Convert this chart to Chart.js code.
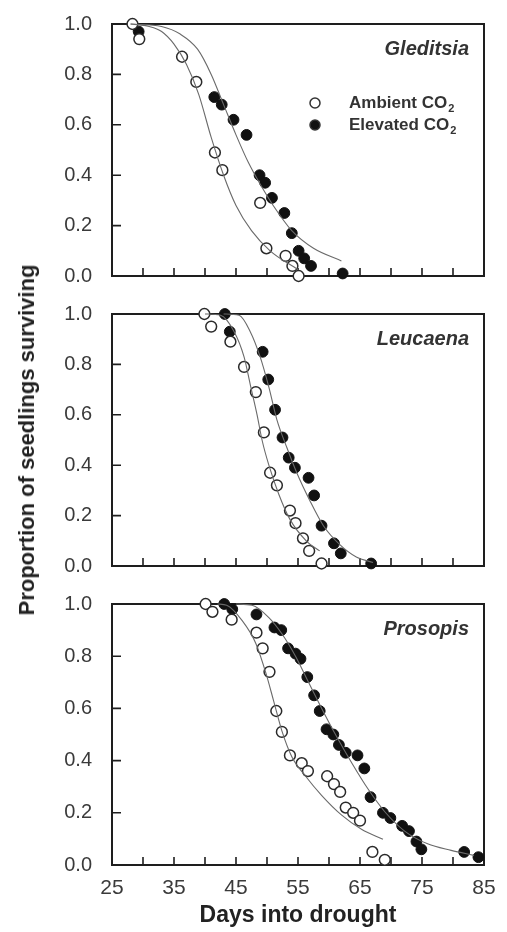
<!DOCTYPE html>
<html>
<head>
<meta charset="utf-8">
<script src="https://cdn.jsdelivr.net/npm/chart.js@4.4.0/dist/chart.umd.min.js"></script>
<style>
  body { margin: 0; background: #fff; width: 507px; height: 932px; position: relative; overflow: hidden; font-family: "Liberation Sans", Arial, sans-serif; }
  .panel { position: absolute; left: 0; width: 507px; }
  #ylab { position: absolute; left: 27px; top: 440px; transform: translate(-50%, -50%) rotate(-90deg);
          font-weight: bold; font-size: 22px; white-space: nowrap; color: #222; }
</style>
</head>
<body>
<div class="panel" style="top:0;height:300px"><canvas id="c1"></canvas></div>
<div class="panel" style="top:290px;height:300px"><canvas id="c2"></canvas></div>
<div class="panel" style="top:580px;height:352px"><canvas id="c3"></canvas></div>
<div id="ylab">Proportion of seedlings surviving</div>
<script>
// ---- data ----
// Gleditsia
const gledDaysAmb  = [28.3, 29.4, 36.3, 38.6, 41.6, 42.8, 48.9, 49.9, 53.0, 54.1, 55.1];
const gledSurvAmb  = [1.0, 0.94, 0.87, 0.77, 0.49, 0.42, 0.29, 0.11, 0.08, 0.04, 0.0];
const gledDaysElev = [29.3, 41.5, 42.7, 44.6, 46.7, 48.8, 49.7, 50.8, 52.8, 54.0, 55.1, 56.0, 57.1, 62.2];
const gledSurvElev = [0.97, 0.71, 0.68, 0.62, 0.56, 0.40, 0.37, 0.31, 0.25, 0.17, 0.10, 0.07, 0.04, 0.01];
const gledFitDaysAmb  = [28, 31, 33, 35, 37, 39, 41, 43, 45, 47.5, 50.5, 55];
const gledFitSurvAmb  = [1.0, 0.99, 0.97, 0.92, 0.84, 0.72, 0.55, 0.40, 0.28, 0.18, 0.10, 0.025];
const gledFitDaysElev = [28, 33, 36, 38.8, 41, 43, 45, 47, 49, 51, 54, 57.5, 62];
const gledFitSurvElev = [1.0, 0.99, 0.96, 0.90, 0.80, 0.68, 0.56, 0.45, 0.36, 0.28, 0.18, 0.11, 0.06];

// Leucaena
const leucDaysAmb  = [39.9, 41.0, 44.1, 46.3, 48.2, 49.5, 50.5, 51.6, 53.7, 54.6, 55.8, 56.8, 58.8];
const leucSurvAmb  = [1.0, 0.95, 0.89, 0.79, 0.69, 0.53, 0.37, 0.32, 0.22, 0.17, 0.11, 0.06, 0.01];
const leucDaysElev = [43.2, 44.0, 49.3, 50.2, 51.3, 52.5, 53.5, 54.5, 56.7, 57.6, 58.8, 60.8, 61.9, 66.8];
const leucSurvElev = [1.0, 0.93, 0.85, 0.74, 0.62, 0.51, 0.43, 0.39, 0.35, 0.28, 0.16, 0.09, 0.05, 0.01];
const leucFitDaysAmb  = [40, 42.5, 44.7, 46.3, 47.3, 48.4, 49.2, 50.3, 51.9, 53.7, 56.4, 58.5];
const leucFitSurvAmb  = [1.0, 0.995, 0.93, 0.83, 0.72, 0.60, 0.50, 0.40, 0.285, 0.185, 0.098, 0.06];
const leucFitDaysElev = [43, 45.5, 47.3, 48.9, 50.3, 51.6, 53.2, 54.8, 56.9, 59.1, 61.7, 64.4, 67.1];
const leucFitSurvElev = [1.0, 0.995, 0.93, 0.83, 0.71, 0.58, 0.47, 0.37, 0.26, 0.16, 0.086, 0.036, 0.014];

// Prosopis
const prosDaysAmb  = [40.1, 41.2, 44.3, 48.3, 49.3, 50.4, 51.5, 52.4, 53.7, 55.6, 56.6, 59.7, 60.8, 61.8, 62.7, 63.9, 65.0, 67.0, 69.0];
const prosSurvAmb  = [1.0, 0.97, 0.94, 0.89, 0.83, 0.74, 0.59, 0.51, 0.42, 0.39, 0.36, 0.34, 0.31, 0.28, 0.22, 0.20, 0.17, 0.05, 0.02];
const prosDaysElev = [43.1, 44.4, 48.3, 51.2, 52.3, 53.4, 54.6, 55.4, 56.5, 57.6, 58.5, 59.6, 60.7, 61.6, 62.7, 64.6, 65.7, 66.7, 68.7, 69.9, 71.8, 72.9, 74.1, 74.9, 81.8, 84.1];
const prosSurvElev = [1.0, 0.98, 0.96, 0.91, 0.90, 0.83, 0.81, 0.79, 0.72, 0.65, 0.59, 0.52, 0.50, 0.46, 0.43, 0.42, 0.37, 0.26, 0.20, 0.18, 0.15, 0.13, 0.09, 0.06, 0.05, 0.03];
const prosFitDaysAmb  = [42, 43.5, 46, 48.2, 49.8, 51.1, 52.4, 54, 56.2, 58.8, 62, 65.3, 68.7];
const prosFitSurvAmb  = [1.0, 0.995, 0.936, 0.849, 0.737, 0.626, 0.514, 0.415, 0.341, 0.267, 0.192, 0.136, 0.099];
const prosFitDaysElev = [45, 47.6, 50.3, 52.4, 54.6, 56.7, 58.8, 61, 63.7, 66.3, 69, 72.2, 75.9, 79.7, 83.4];
const prosFitSurvElev = [1.0, 0.995, 0.948, 0.886, 0.8, 0.7, 0.601, 0.502, 0.39, 0.291, 0.204, 0.13, 0.081, 0.056, 0.037];

// axis ticks
const xTicks = [25, 30, 35, 40, 45, 50, 55, 60, 65, 70, 75, 80, 85];
const xLabels = [25, 35, 45, 55, 65, 75, 85];
const yTicks = [0, 0.2, 0.4, 0.6, 0.8, 1.0];

const FONT = '"Liberation Sans", Arial, sans-serif';

function pts(xs, ys) {
  return xs.map((x, i) => ({ x: x, y: ys[i] }));
}

// frame, inward ticks, species name and legend
const panelDeco = {
  id: 'panelDeco',
  beforeDatasetsDraw(chart, args, opts) {
    const { ctx, chartArea: a, scales: { x, y } } = chart;
    ctx.save();
    ctx.strokeStyle = '#1e1e1e';
    ctx.lineWidth = 1.6;
    ctx.beginPath();
    xTicks.forEach(v => {
      const px = x.getPixelForValue(v);
      if (px <= a.left + 1 || px >= a.right - 1) return;
      ctx.moveTo(px, a.bottom);
      ctx.lineTo(px, a.bottom - 8);
    });
    yTicks.forEach(v => {
      const py = y.getPixelForValue(v);
      if (py <= a.top + 1 || py >= a.bottom - 1) return;
      ctx.moveTo(a.left, py);
      ctx.lineTo(a.left + 9, py);
    });
    ctx.stroke();
    ctx.lineWidth = 2;
    ctx.strokeRect(a.left, a.top, a.right - a.left, a.bottom - a.top);
    ctx.restore();
  },
  afterDatasetsDraw(chart, args, opts) {
    const { ctx, chartArea: a } = chart;
    ctx.save();
    ctx.fillStyle = '#333';
    ctx.font = 'italic bold 20px ' + FONT;
    ctx.textAlign = 'right';
    ctx.textBaseline = 'middle';
    ctx.fillText(opts.species, a.right - 15, a.top + 25);
    if (opts.legend) {
      const items = [['Ambient CO', '#fff'], ['Elevated CO', '#111']];
      items.forEach((it, i) => {
        const yy = a.top + 79 + i * 22;
        const mx = a.right - 169;
        ctx.beginPath();
        ctx.arc(mx, yy, 5, 0, Math.PI * 2);
        ctx.fillStyle = it[1];
        ctx.fill();
        ctx.lineWidth = 1.5;
        ctx.strokeStyle = '#333';
        ctx.stroke();
        ctx.fillStyle = '#333';
        ctx.textAlign = 'left';
        ctx.font = 'bold 17px ' + FONT;
        const tx = a.right - 135;
        ctx.fillText(it[0], tx, yy);
        const w = ctx.measureText(it[0]).width;
        ctx.font = 'bold 11px ' + FONT;
        ctx.fillText('2', tx + w + 1, yy + 6);
      });
    }
    ctx.restore();
  }
};

function makePanel(id, species, legend, bottom, data, pad) {
  const [dA, sA, dE, sE, fdA, fsA, fdE, fsE] = data;
  return new Chart(document.getElementById(id), {
    type: 'scatter',
    data: {
      datasets: [
        { label: 'Ambient fit', type: 'line', data: pts(fdA, fsA), borderColor: '#6a6a6a', borderWidth: 1.1,
          pointRadius: 0, fill: false, cubicInterpolationMode: 'monotone', clip: false },
        { label: 'Elevated fit', type: 'line', data: pts(fdE, fsE), borderColor: '#6a6a6a', borderWidth: 1.1,
          pointRadius: 0, fill: false, cubicInterpolationMode: 'monotone', clip: false },
        { label: 'Ambient CO2', data: pts(dA, sA), pointRadius: 5.4, pointBackgroundColor: '#fff',
          pointBorderColor: '#2a2a2a', pointBorderWidth: 1.5, clip: false },
        { label: 'Elevated CO2', data: pts(dE, sE), pointRadius: 5.4, pointBackgroundColor: '#111',
          pointBorderColor: '#111', pointBorderWidth: 1, clip: false }
      ]
    },
    options: {
      responsive: true,
      maintainAspectRatio: false,
      animation: false,
      layout: { padding: pad },
      plugins: {
        legend: { display: false },
        tooltip: { enabled: false },
        panelDeco: { species: species, legend: legend }
      },
      scales: {
        x: {
          type: 'linear', min: 25, max: 85,
          grid: { display: false },
          border: { display: false },
          afterBuildTicks: s => { s.ticks = xTicks.map(v => ({ value: v })); },
          ticks: {
            display: bottom,
            padding: 3,
            autoSkip: false,
            maxRotation: 0,
            color: '#3a3a3a',
            font: { family: FONT, size: 21 },
            callback: v => xLabels.includes(v) ? String(v) : ''
          },
          title: {
            display: bottom,
            text: 'Days into drought',
            color: '#222',
            font: { family: FONT, size: 23, weight: 'bold' },
            padding: { top: 8, bottom: 0 }
          },
          afterFit: s => { s.height = bottom ? 64 : 0; }
        },
        y: {
          min: 0, max: 1,
          grid: { display: false },
          border: { display: false },
          afterBuildTicks: s => { s.ticks = yTicks.map(v => ({ value: v })); },
          ticks: {
            padding: 12,
            color: '#3a3a3a',
            font: { family: FONT, size: 20 },
            callback: v => v.toFixed(1)
          },
          afterFit: s => { s.width = 52; }
        }
      }
    },
    plugins: [panelDeco]
  });
}

makePanel('c1', 'Gleditsia', true, false,
  [gledDaysAmb, gledSurvAmb, gledDaysElev, gledSurvElev, gledFitDaysAmb, gledFitSurvAmb, gledFitDaysElev, gledFitSurvElev],
  { left: 60, right: 23, top: 16, bottom: 17 });
makePanel('c2', 'Leucaena', false, false,
  [leucDaysAmb, leucSurvAmb, leucDaysElev, leucSurvElev, leucFitDaysAmb, leucFitSurvAmb, leucFitDaysElev, leucFitSurvElev],
  { left: 60, right: 23, top: 15, bottom: 17 });
makePanel('c3', 'Prosopis', false, true,
  [prosDaysAmb, prosSurvAmb, prosDaysElev, prosSurvElev, prosFitDaysAmb, prosFitSurvAmb, prosFitDaysElev, prosFitSurvElev],
  { left: 60, right: 23, top: 16, bottom: 3 });
</script>
</body>
</html>
